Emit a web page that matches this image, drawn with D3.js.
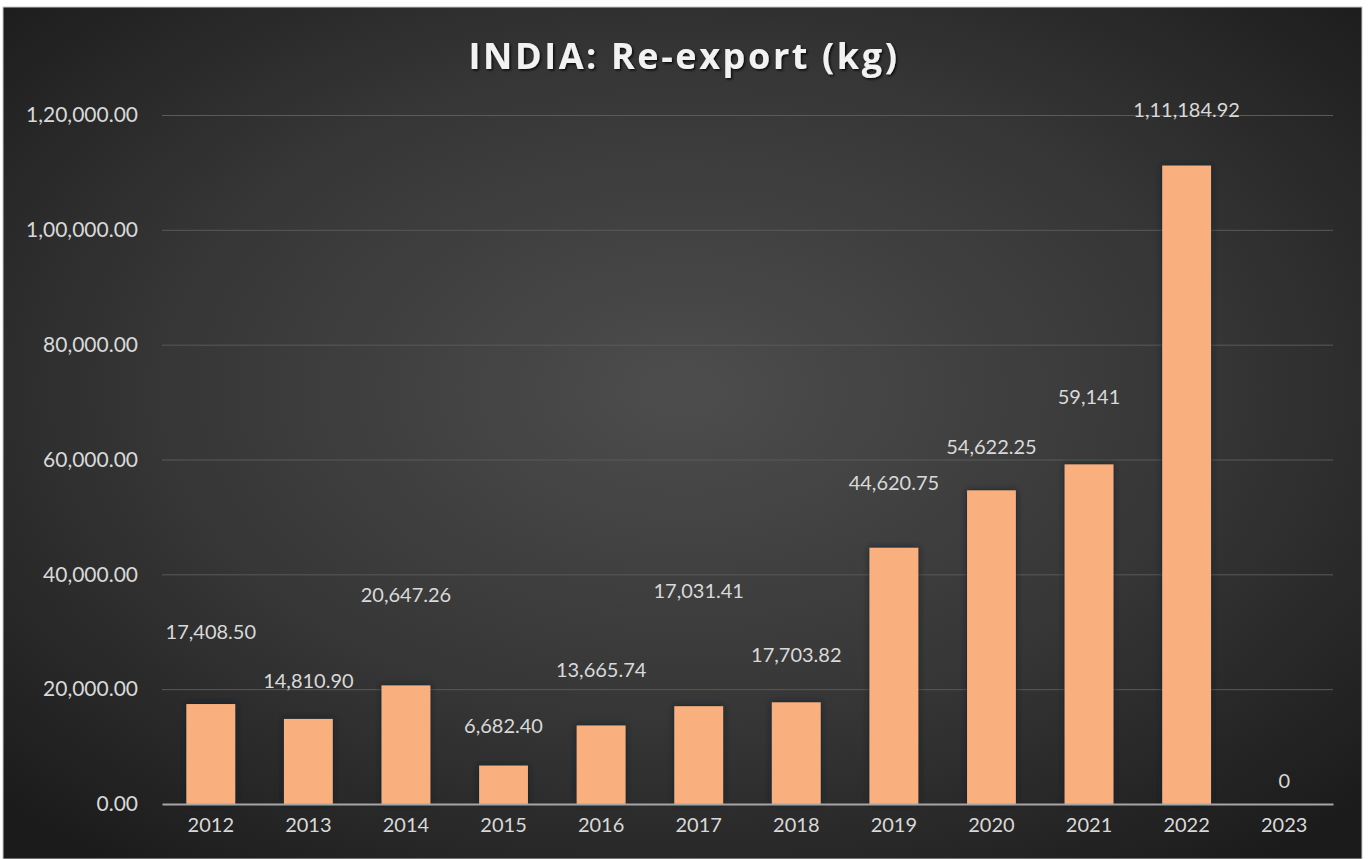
<!DOCTYPE html>
<html>
<head>
<meta charset="utf-8">
<script src="https://cdn.jsdelivr.net/npm/d3@7"></script>
<style>
  html, body { margin: 0; padding: 0; background: #ffffff; }
  svg { display: block; }
</style>
</head>
<body>
<svg id="chart" width="1368" height="859"></svg>
<script>
const title = "INDIA: Re-export (kg)";
const years = ["2012","2013","2014","2015","2016","2017","2018","2019","2020","2021","2022","2023"];
const values = [17408.50, 14810.90, 20647.26, 6682.40, 13665.74, 17031.41, 17703.82, 44620.75, 54622.25, 59141, 111184.92, 0];
const valueLabels = ["17,408.50","14,810.90","20,647.26","6,682.40","13,665.74","17,031.41","17,703.82","44,620.75","54,622.25","59,141","1,11,184.92","0"];
// height (in data units) where each data label was placed in the original
const labelLevels = [29950, 21400, 36400, 13600, 23340, 37100, 25950, 55900, 62200, 70900, 120900, 4000];
const yTicks = [0, 20000, 40000, 60000, 80000, 100000, 120000];
const yTickLabels = ["0.00","20,000.00","40,000.00","60,000.00","80,000.00","1,00,000.00","1,20,000.00"];

const W = 1368, H = 859;
const FONT = "Lato, 'Open Sans', sans-serif";
const svg = d3.select("#chart");
const defs = svg.append("defs");

const grad = defs.append("radialGradient").attr("id", "bg")
  .attr("cx", "50%").attr("cy", "45%").attr("r", "70%");
grad.append("stop").attr("offset", "0%").attr("stop-color", "#4d4d4d");
grad.append("stop").attr("offset", "55%").attr("stop-color", "#363636");
grad.append("stop").attr("offset", "100%").attr("stop-color", "#1b1b1b");

const shadow = defs.append("filter").attr("id", "barShadow")
  .attr("x", "-30%").attr("y", "-10%").attr("width", "160%").attr("height", "120%");
shadow.append("feDropShadow").attr("dx", 0).attr("dy", 0).attr("stdDeviation", 3)
  .attr("flood-color", "#0b1a2a").attr("flood-opacity", 0.85);

const tshadow = defs.append("filter").attr("id", "textShadow")
  .attr("x", "-10%").attr("y", "-30%").attr("width", "120%").attr("height", "160%");
tshadow.append("feDropShadow").attr("dx", 1.5).attr("dy", 1.5).attr("stdDeviation", 1)
  .attr("flood-color", "#000").attr("flood-opacity", 0.8);

// chart area background
svg.append("rect").attr("x", 3).attr("y", 7).attr("width", 1359).attr("height", H - 7)
  .attr("fill", "url(#bg)").attr("stroke", "#c8c8c8").attr("stroke-width", 1);

const x = d3.scaleBand().domain(years).range([162, 1333]).paddingInner(0.5).paddingOuter(0.25);
const y = d3.scaleLinear().domain([0, 120000]).range([804, 115]);

// gridlines + y labels
const yAxis = d3.axisLeft(y).tickValues(yTicks).tickSize(-(1333 - 162)).tickFormat((d, i) => yTickLabels[i]);
const gy = svg.append("g").attr("transform", "translate(162,0)").call(yAxis);
gy.select(".domain").remove();
gy.selectAll(".tick line").attr("stroke", "#5a5a5a").attr("stroke-width", 1)
  .filter(d => d === 0).remove();
gy.selectAll(".tick text").attr("x", -24).attr("fill", "#d9d9d9")
  .attr("font-family", FONT).attr("font-size", 21);

// bars
svg.append("g").selectAll("rect").data(values).join("rect")
  .attr("x", (d, i) => x(years[i]))
  .attr("width", x.bandwidth())
  .attr("y", d => y(d))
  .attr("height", d => y(0) - y(d))
  .attr("fill", "#fab07e")
  .attr("filter", "url(#barShadow)");

// x axis
const xAxis = d3.axisBottom(x).tickSize(0).tickPadding(14);
const gx = svg.append("g").attr("transform", "translate(0,804)").call(xAxis);
gx.select(".domain").attr("stroke", "#a6a6a6").attr("stroke-width", 2);
gx.selectAll(".tick text").attr("fill", "#d9d9d9")
  .attr("font-family", FONT).attr("font-size", 20);

// data labels
svg.append("g").selectAll("text").data(values).join("text")
  .attr("x", (d, i) => x(years[i]) + x.bandwidth() / 2)
  .attr("y", (d, i) => y(labelLevels[i]))
  .attr("dy", "0.35em")
  .attr("text-anchor", "middle")
  .attr("fill", "#d9d9d9")
  .attr("font-family", FONT)
  .attr("font-size", 20)
  .text((d, i) => valueLabels[i]);

// title
svg.append("text").attr("x", 684).attr("y", 69)
  .attr("text-anchor", "middle").attr("fill", "#f2f2f2")
  .attr("font-family", "'Open Sans', Lato, sans-serif").attr("font-weight", "bold")
  .attr("font-size", 36).attr("letter-spacing", 2.6)
  .attr("filter", "url(#textShadow)")
  .text(title);
</script>
</body>
</html>
